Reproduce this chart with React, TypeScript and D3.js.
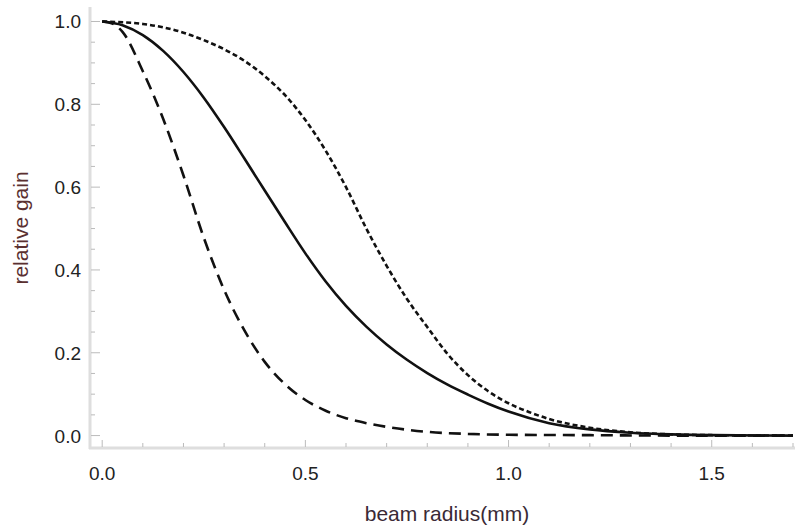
import React from 'react';
import * as d3 from 'd3';

// values (beam radius in mm, relative gain)
const narrowR = [0, 0.025, 0.05, 0.1, 0.15, 0.2, 0.25, 0.3, 0.35, 0.4, 0.45, 0.5, 0.55, 0.6, 0.65, 0.7, 0.8, 0.9, 1.0, 1.2, 1.4, 1.7];
const narrowG = [1.0, 0.995, 0.975, 0.88, 0.765, 0.628, 0.478, 0.352, 0.254, 0.178, 0.124, 0.086, 0.06, 0.042, 0.03, 0.021, 0.009, 0.004, 0.002, 0.001, 0, 0];

const midR = [0, 0.05, 0.1, 0.15, 0.2, 0.25, 0.3, 0.35, 0.4, 0.45, 0.5, 0.55, 0.6, 0.65, 0.7, 0.75, 0.8, 0.85, 0.9, 0.95, 1.0, 1.1, 1.2, 1.3, 1.4, 1.5, 1.7];
const midG = [1.0, 0.991, 0.967, 0.929, 0.878, 0.816, 0.745, 0.669, 0.592, 0.515, 0.44, 0.372, 0.313, 0.263, 0.22, 0.183, 0.151, 0.123, 0.099, 0.077, 0.058, 0.03, 0.015, 0.007, 0.003, 0.001, 0];

const wideR = [0, 0.1, 0.2, 0.25, 0.3, 0.35, 0.4, 0.45, 0.5, 0.55, 0.6, 0.65, 0.7, 0.75, 0.8, 0.85, 0.9, 0.95, 1.0, 1.05, 1.1, 1.2, 1.3, 1.4, 1.5, 1.7];
const wideG = [1.0, 0.994, 0.973, 0.955, 0.933, 0.905, 0.868, 0.822, 0.762, 0.688, 0.6, 0.5, 0.41, 0.33, 0.262, 0.197, 0.146, 0.107, 0.078, 0.057, 0.04, 0.019, 0.008, 0.003, 0.001, 0];

const xMajor = [0, 0.5, 1.0, 1.5];
const yMajor = [0, 0.2, 0.4, 0.6, 0.8, 1.0];

const W = 795;
const H = 529;

const series = [
    { r: narrowR, g: narrowG, dash: '12,7' },
    { r: midR, g: midG, dash: null },
    { r: wideR, g: wideG, dash: '5,3' },
];

const App = () => {
    const x = d3.scaleLinear().domain([-0.03, 1.7]).range([90, 793]);
    const y = d3.scaleLinear().domain([-0.03, 1.035]).range([448, 7]);

    const line = d3.line<number>()
        .curve(d3.curveMonotoneX);

    const xMinor = d3.range(0, 18).map(i => i / 10);
    const yMinor = d3.range(0, 21).map(i => i / 20);

    return (
        <svg width={W} height={H} style={{ position: 'absolute', left: 0, top: 0, background: '#fff' }}
            fontFamily="'Liberation Sans', Arial, sans-serif">

            {/* curves */}
            {series.map((s, i) => (
                <path key={i}
                    d={line.x((_, k) => x(s.r[k])).y(v => y(v))(s.g) || ''}
                    fill="none" stroke="#111" strokeWidth={2.6}
                    strokeDasharray={s.dash || undefined} />
            ))}

            {/* axis lines */}
            <line x1={90} x2={90} y1={7} y2={449} stroke="#dedede" strokeWidth={3} />
            <line x1={89} x2={795} y1={448} y2={448} stroke="#dedede" strokeWidth={3} />

            {/* y ticks */}
            {yMinor.map(v => {
                const major = Math.abs(v * 5 - Math.round(v * 5)) < 1e-6;
                return <line key={'y' + v} x1={91} x2={major ? 100 : 95} y1={y(v)} y2={y(v)}
                    stroke="#bbb" strokeWidth={1} />;
            })}
            {yMajor.map(v => (
                <text key={'yl' + v} x={81} y={y(v) + 7} textAnchor="end" fontSize={19} fill="#222">
                    {d3.format('.1f')(v)}
                </text>
            ))}

            {/* x ticks */}
            {xMinor.map(v => {
                const major = Math.abs(v * 2 - Math.round(v * 2)) < 1e-6;
                return <line key={'x' + v} x1={x(v)} x2={x(v)} y1={447} y2={major ? 440 : 443}
                    stroke="#bbb" strokeWidth={1} />;
            })}
            {xMajor.map(v => (
                <text key={'xl' + v} x={x(v)} y={480} textAnchor="middle" fontSize={19} fill="#222">
                    {d3.format('.1f')(v)}
                </text>
            ))}

            {/* axis titles */}
            <text x={447} y={521} textAnchor="middle" fontSize={21} fill="#3a2a35">beam radius(mm)</text>
            <text transform={`translate(28,228) rotate(-90)`} textAnchor="middle" fontSize={21} fill="#5a3030">
                relative gain
            </text>
        </svg>
    );
};

export default App;
